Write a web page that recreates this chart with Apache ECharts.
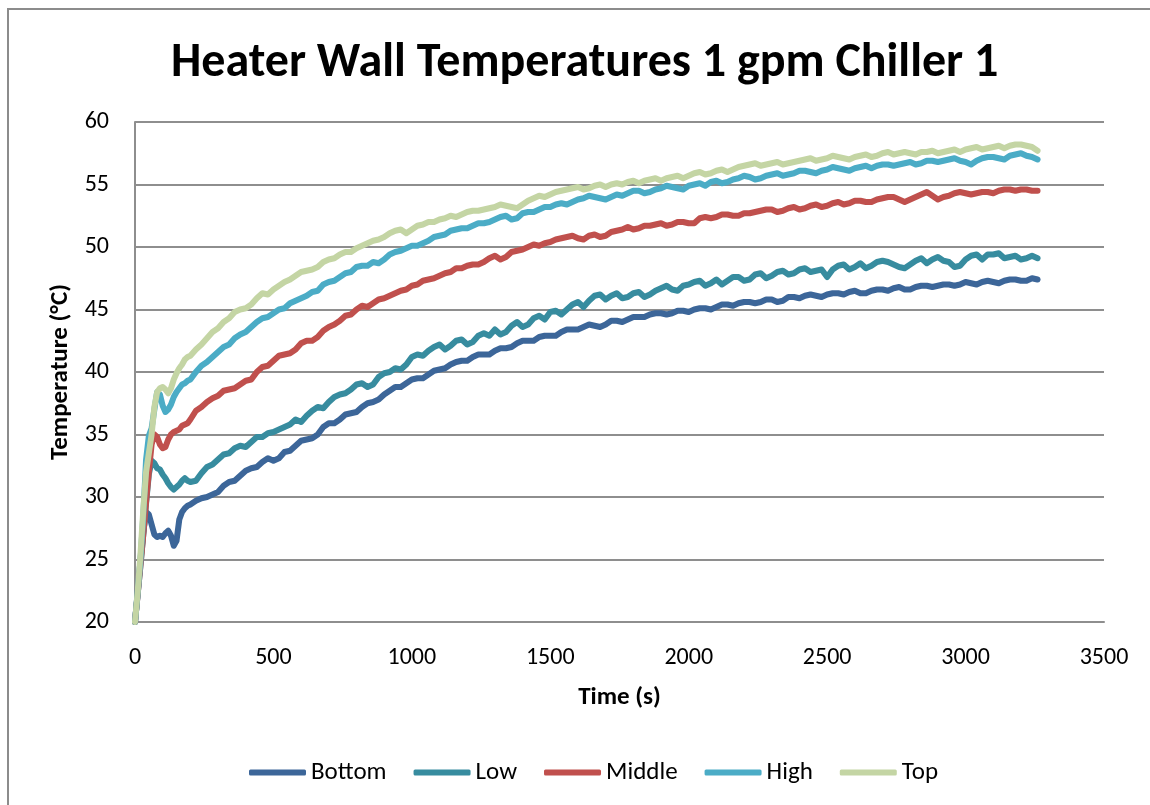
<!DOCTYPE html>
<html>
<head>
<meta charset="utf-8">
<title>Heater Wall Temperatures 1 gpm Chiller 1</title>
<script src="https://cdn.jsdelivr.net/npm/echarts@6/dist/echarts.min.js"></script>
<style>
  html, body { margin: 0; padding: 0; background: #ffffff; }
  #chart { width: 1150px; height: 805px; }
</style>
</head>
<body>
<div id="chart"></div>
<script>
// Sample times (s)
const time = [
  0, 10, 20, 30, 40, 50, 60, 70, 80, 90, 100, 110, 120, 130, 140, 150, 160, 170, 180, 190, 200, 220, 240, 260, 280,
  300, 320, 340, 360, 380, 400, 420, 440, 460, 480,
  500, 520, 540, 560, 580, 600, 620, 640, 660, 680,
  700, 720, 740, 760, 780, 800, 820, 840, 860, 880,
  900, 920, 940, 960, 980, 1000, 1020, 1040, 1060, 1080,
  1100, 1120, 1140, 1160, 1180, 1200, 1220, 1240, 1260, 1280,
  1300, 1320, 1340, 1360, 1380, 1400, 1420, 1440, 1460, 1480,
  1500, 1520, 1540, 1560, 1580, 1600, 1620, 1640, 1660, 1680,
  1700, 1720, 1740, 1760, 1780, 1800, 1820, 1840, 1860, 1880,
  1900, 1920, 1940, 1960, 1980, 2000, 2020, 2040, 2060, 2080,
  2100, 2120, 2140, 2160, 2180, 2200, 2220, 2240, 2260, 2280,
  2300, 2320, 2340, 2360, 2380, 2400, 2420, 2440, 2460, 2480,
  2500, 2520, 2540, 2560, 2580, 2600, 2620, 2640, 2660, 2680,
  2700, 2720, 2740, 2760, 2780, 2800, 2820, 2840, 2860, 2880,
  2900, 2920, 2940, 2960, 2980, 3000, 3020, 3040, 3060, 3080,
  3100, 3120, 3140, 3160, 3180, 3200, 3220, 3240, 3260
];

// Wall temperatures (°C) at each sample time
const bottom = [
  20, 22.5, 25.0, 27.2, 28.8, 28.6, 27.8, 27.0, 26.8, 26.9, 26.8, 27.1, 27.3, 26.9, 26.1, 26.5, 28.2, 28.8, 29.1, 29.3, 29.4, 29.7, 29.9, 30.0, 30.2,
  30.4, 30.9, 31.2, 31.3, 31.7, 32.1, 32.3, 32.4, 32.8, 33.1,
  32.9, 33.1, 33.6, 33.7, 34.1, 34.5, 34.6, 34.7, 35.0, 35.6,
  35.9, 35.9, 36.2, 36.6, 36.7, 36.8, 37.2, 37.5, 37.6, 37.8,
  38.2, 38.5, 38.8, 38.8, 39.1, 39.4, 39.5, 39.5, 39.8, 40.1,
  40.2, 40.3, 40.6, 40.8, 40.9, 40.9, 41.2, 41.4, 41.4, 41.4,
  41.7, 41.9, 41.9, 42.0, 42.3, 42.5, 42.5, 42.5, 42.8, 42.9,
  42.9, 42.9, 43.2, 43.4, 43.4, 43.4, 43.6, 43.8, 43.7, 43.6,
  43.8, 44.1, 44.1, 44.0, 44.2, 44.4, 44.4, 44.4, 44.6, 44.7,
  44.7, 44.6, 44.7, 44.9, 44.9, 44.8, 45.0, 45.1, 45.1, 45.0,
  45.2, 45.4, 45.4, 45.3, 45.5, 45.6, 45.6, 45.5, 45.6, 45.8,
  45.8, 45.6, 45.7, 46.0, 46.0, 45.9, 46.1, 46.2, 46.1, 46.0,
  46.2, 46.3, 46.3, 46.2, 46.4, 46.5, 46.3, 46.3, 46.5, 46.6,
  46.6, 46.5, 46.7, 46.8, 46.6, 46.6, 46.8, 46.9, 46.9, 46.8,
  46.9, 47.0, 47.0, 46.9, 47.0, 47.2, 47.1, 47.0, 47.2, 47.3,
  47.2, 47.1, 47.3, 47.4, 47.4, 47.3, 47.3, 47.5, 47.4
];
const low = [
  20, 22.3, 24.6, 27.0, 29.5, 31.8, 32.9, 32.7, 32.3, 32.2, 31.8, 31.5, 31.1, 30.8, 30.6, 30.8, 31.0, 31.3, 31.5, 31.3, 31.2, 31.3, 31.9, 32.4, 32.6,
  33.0, 33.4, 33.5, 33.9, 34.1, 34.0, 34.4, 34.8, 34.8, 35.1,
  35.2, 35.4, 35.6, 35.8, 36.2, 36.0, 36.5, 36.9, 37.2, 37.1,
  37.6, 38.0, 38.2, 38.3, 38.6, 39.0, 39.1, 38.8, 39.0, 39.6,
  39.9, 40.0, 40.3, 40.2, 40.6, 41.2, 41.4, 41.3, 41.7, 42.0,
  42.2, 41.8, 42.1, 42.5, 42.6, 42.2, 42.4, 42.9, 43.1, 42.9,
  43.4, 43.0, 43.2, 43.7, 44.0, 43.6, 43.8, 44.3, 44.5, 44.2,
  44.8, 44.9, 44.6, 45.0, 45.4, 45.6, 45.2, 45.7, 46.1, 46.2,
  45.8, 46.1, 46.3, 45.9, 46.0, 46.3, 46.4, 46.0, 46.2, 46.5,
  46.7, 46.9, 46.6, 46.5, 46.9, 47.0, 47.2, 47.3, 46.9, 47.1,
  47.4, 47.0, 47.3, 47.6, 47.6, 47.3, 47.4, 47.8, 47.9, 47.5,
  47.7, 48.0, 48.1, 47.8, 47.9, 48.2, 48.3, 48.0, 48.1, 48.2,
  47.6, 48.2, 48.5, 48.6, 48.2, 48.4, 48.7, 48.3, 48.5, 48.8,
  48.9, 48.8, 48.6, 48.4, 48.3, 48.6, 48.9, 49.1, 48.7, 49.0,
  49.2, 48.9, 48.8, 48.4, 48.5, 49.0, 49.3, 49.4, 49.0, 49.4,
  49.4, 49.5, 49.1, 49.2, 49.3, 49.0, 49.1, 49.3, 49.1
];
const middle = [
  20, 22.3, 24.6, 27.0, 29.6, 32.0, 34.2, 35.0, 34.8, 34.2, 33.9, 34.0, 34.6, 35.0, 35.2, 35.3, 35.4, 35.7, 35.8, 35.9, 36.2, 36.9, 37.2, 37.6, 37.9,
  38.1, 38.5, 38.6, 38.7, 39.0, 39.3, 39.4, 40.0, 40.4, 40.5,
  40.9, 41.3, 41.4, 41.5, 41.8, 42.3, 42.5, 42.5, 42.8, 43.3,
  43.6, 43.8, 44.1, 44.5, 44.6, 45.0, 45.3, 45.2, 45.5, 45.8,
  45.9, 46.1, 46.3, 46.5, 46.6, 46.9, 47.0, 47.3, 47.4, 47.5,
  47.7, 47.9, 48.0, 48.3, 48.3, 48.5, 48.6, 48.6, 48.8, 49.1,
  49.3, 49.0, 49.2, 49.6, 49.7, 49.8, 50.0, 50.2, 50.1, 50.3,
  50.4, 50.6, 50.7, 50.8, 50.9, 50.7, 50.6, 50.9, 51.0, 50.8,
  50.9, 51.2, 51.3, 51.4, 51.6, 51.4, 51.5, 51.7, 51.7, 51.8,
  51.9, 51.7, 51.8, 52.0, 52.0, 51.9, 51.9, 52.3, 52.4, 52.3,
  52.4, 52.6, 52.6, 52.5, 52.5, 52.7, 52.7, 52.8, 52.9, 53.0,
  53.0, 52.8, 52.9, 53.1, 53.2, 53.0, 53.1, 53.3, 53.4, 53.2,
  53.3, 53.5, 53.6, 53.4, 53.5, 53.7, 53.7, 53.6, 53.6, 53.8,
  53.9, 54.0, 54.0, 53.8, 53.6, 53.8, 54.0, 54.2, 54.4, 54.1,
  53.8, 54.0, 54.1, 54.3, 54.4, 54.3, 54.2, 54.3, 54.4, 54.4,
  54.3, 54.5, 54.6, 54.6, 54.5, 54.6, 54.6, 54.5, 54.5
];
const high = [
  20, 22.4, 25.0, 28.5, 33.0, 34.9, 35.5, 37.0, 38.4, 38.2, 37.3, 36.8, 37.0, 37.4, 38.0, 38.4, 38.7, 39.0, 39.1, 39.3, 39.4, 40.0, 40.5, 40.8, 41.2,
  41.6, 42.0, 42.2, 42.7, 43.0, 43.2, 43.6, 44.0, 44.3, 44.4,
  44.7, 45.0, 45.1, 45.5, 45.7, 45.9, 46.1, 46.4, 46.5, 47.0,
  47.2, 47.3, 47.6, 47.9, 48.0, 48.4, 48.5, 48.5, 48.8, 48.7,
  49.0, 49.4, 49.6, 49.7, 49.9, 50.1, 50.1, 50.3, 50.5, 50.8,
  50.9, 51.0, 51.3, 51.4, 51.5, 51.5, 51.7, 51.9, 51.9, 52.0,
  52.2, 52.4, 52.5, 52.2, 52.3, 52.7, 52.8, 52.8, 53.0, 53.2,
  53.2, 53.4, 53.5, 53.4, 53.6, 53.8, 53.9, 54.1, 54.0, 53.9,
  53.8, 54.0, 54.2, 54.1, 54.3, 54.5, 54.5, 54.3, 54.4, 54.6,
  54.7, 54.9, 54.8, 54.7, 54.6, 54.9, 55.0, 55.1, 54.9, 55.2,
  55.3, 55.1, 55.2, 55.4, 55.5, 55.7, 55.6, 55.4, 55.5, 55.7,
  55.8, 55.9, 55.7, 55.8, 55.9, 56.1, 56.1, 56.0, 55.9, 56.1,
  56.2, 56.4, 56.3, 56.2, 56.1, 56.3, 56.4, 56.5, 56.3, 56.5,
  56.6, 56.6, 56.5, 56.6, 56.7, 56.8, 56.6, 56.7, 56.9, 56.9,
  56.8, 56.9, 57.0, 57.1, 56.9, 56.8, 56.6, 56.9, 57.1, 57.2,
  57.2, 57.1, 57.0, 57.3, 57.4, 57.5, 57.3, 57.2, 57.0
];
const top_ = [
  20, 22.5, 25.5, 29.0, 32.0, 33.5, 35.0, 37.2, 38.4, 38.7, 38.8, 38.6, 38.3, 38.7, 39.4, 39.9, 40.3, 40.6, 41.0, 41.2, 41.3, 41.8, 42.2, 42.7, 43.2,
  43.5, 44.0, 44.3, 44.8, 45.0, 45.1, 45.4, 45.9, 46.3, 46.2,
  46.6, 46.9, 47.2, 47.4, 47.7, 48.0, 48.1, 48.2, 48.4, 48.8,
  49.0, 49.1, 49.4, 49.6, 49.6, 49.9, 50.1, 50.3, 50.5, 50.6,
  50.8, 51.1, 51.3, 51.4, 51.1, 51.4, 51.7, 51.8, 52.0, 52.0,
  52.2, 52.3, 52.5, 52.4, 52.6, 52.8, 52.9, 52.9, 53.0, 53.1,
  53.2, 53.4, 53.3, 53.2, 53.1, 53.4, 53.7, 53.9, 54.1, 54.0,
  54.2, 54.4, 54.5, 54.6, 54.7, 54.8, 54.6, 54.7, 54.9, 55.0,
  54.8, 55.0, 55.1, 55.0, 55.2, 55.3, 55.1, 55.3, 55.4, 55.5,
  55.3, 55.5, 55.6, 55.7, 55.5, 55.7, 55.9, 56.0, 55.8, 55.9,
  56.1, 56.2, 56.0, 56.2, 56.4, 56.5, 56.6, 56.7, 56.5, 56.6,
  56.7, 56.8, 56.6, 56.7, 56.8, 56.9, 57.0, 57.1, 56.9, 57.0,
  57.1, 57.3, 57.2, 57.1, 57.0, 57.2, 57.3, 57.4, 57.2, 57.3,
  57.5, 57.6, 57.4, 57.5, 57.6, 57.5, 57.4, 57.6, 57.6, 57.7,
  57.5, 57.6, 57.7, 57.8, 57.6, 57.8, 57.9, 58.0, 57.8, 57.9,
  58.0, 58.1, 57.9, 58.1, 58.2, 58.2, 58.1, 58.0, 57.7
];

const seriesNames = ['Bottom', 'Low', 'Middle', 'High', 'Top'];
const seriesValues = [bottom, low, middle, high, top_];
const colors = ['#3c6699', '#378c9f', '#c0504d', '#4bacc6', '#c4d5a4'];

const font = 'Carlito, Calibri, Lato, sans-serif';
const gridColor = '#8e8e8e';

const chart = echarts.init(document.getElementById('chart'), null, { renderer: 'canvas' });

chart.setOption({
  backgroundColor: '#ffffff',
  animation: false,
  color: colors,
  title: {
    text: 'Heater Wall Temperatures 1 gpm Chiller 1',
    left: 166,
    top: 35,
    textStyle: { fontFamily: font, fontSize: 48, fontWeight: 'bold', color: '#000000' }
  },
  graphic: [{
    type: 'rect',
    shape: { x: 8, y: 9, width: 1200, height: 900 },
    style: { fill: 'none', stroke: '#8c8c8c', lineWidth: 2 },
    silent: true
  }],
  grid: { left: 135, right: 46, top: 122, bottom: 183 },
  xAxis: {
    type: 'value',
    min: 0, max: 3500, interval: 500,
    name: 'Time (s)',
    nameLocation: 'middle',
    nameGap: 63,
    nameTextStyle: { fontFamily: font, fontSize: 25, fontWeight: 'bold', color: '#000000' },
    axisLine: { show: true, lineStyle: { color: gridColor, width: 2 } },
    axisTick: { show: false },
    axisLabel: { fontFamily: font, fontSize: 24, color: '#000000', margin: 24, formatter: v => String(v) },
    splitLine: { show: false }
  },
  yAxis: {
    type: 'value',
    min: 20, max: 60, interval: 5,
    name: 'Temperature (°C)',
    nameLocation: 'middle',
    nameGap: 62,
    nameRotate: 90,
    nameTextStyle: { fontFamily: font, fontSize: 25, fontWeight: 'bold', color: '#000000' },
    axisLine: { show: true, lineStyle: { color: gridColor, width: 2 } },
    axisTick: { show: false },
    axisLabel: { fontFamily: font, fontSize: 24, color: '#000000', margin: 26, formatter: v => String(v) },
    splitLine: { show: true, lineStyle: { color: gridColor, width: 2 } }
  },
  legend: {
    data: seriesNames,
    top: 755,
    left: 244,
    icon: 'roundRect',
    itemWidth: 57,
    itemHeight: 6,
    itemGap: 27,
    textStyle: { fontFamily: font, fontSize: 25, color: '#000000' }
  },
  series: seriesNames.map((name, i) => ({
    name: name,
    type: 'line',
    data: time.map((t, k) => [t, seriesValues[i][k]]),
    showSymbol: false,
    symbol: 'none',
    smooth: false,
    lineStyle: { width: 6, color: colors[i], cap: 'round', join: 'round' },
    itemStyle: { color: colors[i] },
    z: 2 + i
  }))
});
</script>
</body>
</html>
